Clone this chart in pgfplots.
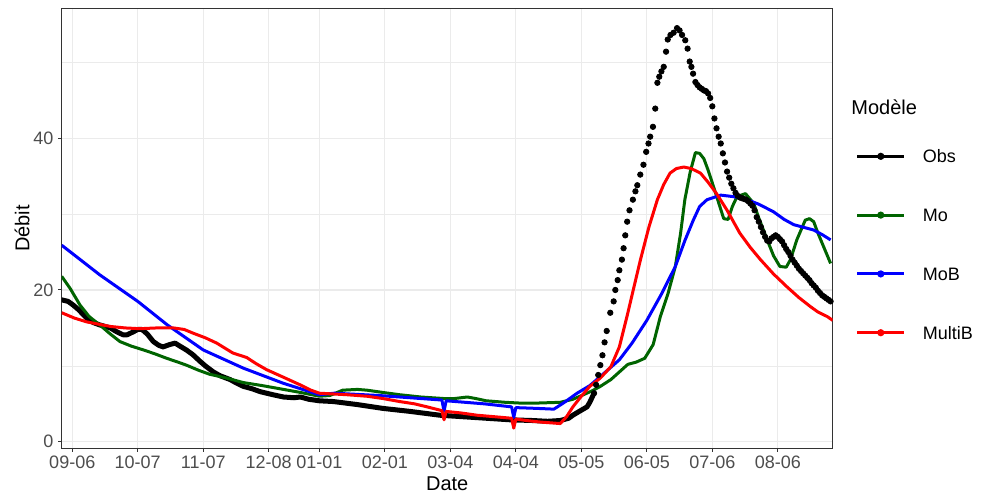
\documentclass[border=0pt]{standalone}
\usepackage{pgfplots}
\pgfplotsset{compat=1.18}
\usepackage{fontspec}
\setmainfont{Liberation Sans}
\definecolor{tickgray}{HTML}{4D4D4D}
\definecolor{gridgray}{HTML}{EBEBEB}
\definecolor{bordergray}{HTML}{333333}
\definecolor{mogreen}{HTML}{006400}
\begin{document}
\begin{tikzpicture}
\path[use as bounding box] (0,0) rectangle (492.5pt,250pt);
\begin{axis}[
  at={(30.85pt,25.85pt)}, anchor=south west,
  scale only axis, width=385.5pt, height=219.8pt,
  xmin=0, xmax=365, ymin=-0.86, ymax=57.06,
  xtick={5,36,67,98,122,153,184,215,246,277,308,339},
  xticklabels={09-06,10-07,11-07,12-08,01-01,02-01,03-04,04-04,05-05,06-05,07-06,08-06},
  ytick={0,20,40}, minor ytick={10,30,50},
  grid=both,
  major grid style={gridgray, line width=0.6pt},
  minor grid style={gridgray, line width=0.3pt},
  axis line style={bordergray, line width=0.5pt},
  tick style={bordergray, line width=0.5pt},
  tick align=outside, tick pos=left,
  major tick length=1.8pt, minor tick length=0pt,
  /pgf/number format/assume math mode=true,
  ticklabel style={font=\fontsize{9}{10}\selectfont, text=tickgray},
  xticklabel style={inner sep=2pt},
  yticklabel style={inner sep=2.2pt},
  xlabel={Date}, ylabel={Débit},
  xlabel style={at={(axis description cs:0.5,-0.0971)}, anchor=base, font=\fontsize{10}{12}\selectfont},
  ylabel style={at={(axis description cs:-0.042,0.5)}, anchor=base, font=\fontsize{10}{12}\selectfont},
  legend cell align=left,
  legend style={draw=none, fill=none, at={(axis description cs:1.0302,0.679)}, anchor=north west,
    font=\fontsize{9}{10}\selectfont, inner sep=0pt, outer sep=0pt, row sep=22.9pt, column sep=8.65pt,
    nodes={inner sep=0pt, text height=6.5pt, text depth=0pt}},
  legend image code/.code={\draw[mark repeat=2,mark phase=2,#1] plot coordinates {(0pt,0pt) (11.65pt,0pt) (23.3pt,0pt)};},
]
% Obs (line part where daily points merge)
\addplot[forget plot, black, line width=2.5pt, line join=round, line cap=round] coordinates {
(0,18.7) (3,18.5) (5.5,18.0) (8,17.4) (11.8,16.3) (15,15.7) (18,15.4) (23,15.0) (26,14.5) (29,14.1)
(31,14.1) (34,14.5) (36,14.8) (38,14.8) (40.5,14.2) (43.4,13.2) (46,12.7) (48,12.5) (51,12.8) (53.7,13.0)
(56,12.6) (59,12.1) (62,11.5) (65.5,10.6) (68,10.0) (71.8,9.2) (75,8.7) (79.7,8.2) (83,7.7) (86,7.3)
(90,7.0) (94,6.6) (100,6.2) (105,5.9) (110,5.8) (113,5.9) (117,5.6) (122,5.4) (128.7,5.3) (140,4.9)
(152,4.4) (165,4.0) (179,3.5) (190,3.3) (201,3.1) (212,2.9) (223,2.8) (230,2.7) (236,2.8) (240,3.1)
(242,3.5) (245,4.0) (248.7,4.6) (250,5.2) (252,6.4)
};
% Obs (daily points)
\addplot[forget plot, black, only marks, mark=*, mark size=1.35pt] coordinates {
(252,6.4) (253,7.5) (254,8.8) (255,10.1) (256,11.4) (257,13.1) (258,14.6) (259.7,17.0) (261.3,18.5) (262.1,20.0)
(263.2,21.3) (264,22.6) (265.2,24.0) (266,25.5) (266.8,27.2) (267.7,29.0) (268.8,30.5) (270.4,31.9) (271.6,33.0) (272.5,33.8)
(273.9,35.2) (275.4,36.5) (276.7,38.2) (277.8,39.3) (278.6,40.2) (279.9,41.5) (281,43.9) (282,47.3) (282.9,48.1) (283.9,48.8)
(285,49.4) (286.1,51.4) (286.9,53.0) (288.2,53.6) (289.7,53.9) (291.3,54.5) (292.5,54.2) (293.7,53.6) (295.2,52.9) (296.3,51.8)
(297.3,50.1) (298.1,49.4) (298.9,48.5) (300,47.4) (301,47.0) (302,46.7) (303,46.5) (304,46.3) (305,46.2) (306,45.9)
(307,45.3) (308,44.2) (309,42.6) (310,41.3) (311,40.2) (312,39.3) (313,38.0) (314,36.8) (315,35.6) (316,34.8)
(317,34.0) (318,33.4) (319,32.8) (320,32.4) (321,32.2) (322,32.1) (323,32.0) (324,31.9) (325,31.7) (326,31.4)
(327,31.1) (328,30.5) (329,29.6) (330,29.0) (331,28.3) (332,27.6) (333,27.0) (334,26.5) (335,26.4) (336,26.8)
(337,27.0) (338,27.2) (339,27.0) (340,26.7) (341,26.4) (342,25.9) (343,25.4) (344,25.0) (345,24.5) (346,24.0)
(347,23.6) (348,23.2) (349,22.8) (350,22.5) (351,22.2) (352,21.9) (353,21.6) (354,21.3) (355,20.9) (356,20.6)
(357,20.3) (358,19.9) (359,19.6) (360,19.3) (361,19.1) (362,18.9) (363,18.7) (364,18.5)
};
% Mo
\addplot[forget plot, mogreen, line width=1.5pt, line join=round] coordinates {
(0,21.8) (4,20.2) (8.7,18.0) (13,16.5) (18,15.4) (23,14.2) (27.6,13.2) (33,12.6) (38.7,12.1) (44,11.6)
(49.7,11.0) (55,10.5) (59,10.1) (65,9.4) (70,8.9) (78,8.4) (86,7.8) (95,7.4) (105,6.9) (113,6.5)
(122,6.0) (127,6.1) (133,6.8) (140,6.9) (144.5,6.8) (152,6.5) (160,6.2) (170,5.9) (180.8,5.7) (186,5.7)
(192,5.9) (196,5.7) (201,5.4) (210,5.2) (217,5.1) (225,5.1) (236,5.2) (242,5.6) (247,6.2) (251,6.7)
(255,7.3) (260,8.2) (264,9.2) (268,10.2) (272,10.5) (276,11.0) (280,12.8) (283.4,16.5) (287,19.5) (290.5,23.1)
(293,27.5) (295,31.9) (297.5,35.5) (300,38.1) (302,38.0) (304,37.3) (306,35.8) (308.6,33.6) (311,31.5) (313.4,29.4)
(315.5,29.3) (317.5,31.0) (319.7,32.3) (323.7,32.7) (327.6,31.4) (330,29.5) (334,26.6) (337,24.5) (340,23.1) (343,23.0)
(345,24.0) (348,26.6) (352,29.2) (354,29.4) (356,29.0) (358,27.5) (361,25.5) (364,23.5)
};
% MoB
\addplot[forget plot, blue, line width=1.5pt, line join=round] coordinates {
(0,25.9) (18,22.0) (36,18.5) (50,15.4) (67,12.1) (86,9.7) (105,7.7) (122,6.2) (129,6.4) (150,6.1)
(165,5.8) (180,5.5) (181,4.0) (182,5.4) (200,5.0) (213,4.6) (214,3.2) (215,4.5) (225,4.4) (233,4.3)
(238,5.2) (244,6.4) (250,7.4) (255,8.6) (264,10.8) (270,13.0) (277,16.0) (284,19.5) (290.5,23.1) (295,26.5)
(299,29.2) (302,31.0) (305.5,31.9) (312,32.5) (318,32.3) (324.5,31.9) (330,31.3) (337,30.3) (342,29.3) (346.6,28.6)
(352,28.2) (356,27.9) (360,27.3) (364,26.6)
};
% MultiB
\addplot[forget plot, red, line width=1.5pt, line join=round] coordinates {
(0,17.0) (6,16.3) (11.8,15.8) (22.9,15.2) (30,15.0) (37,14.9) (45,15.0) (52.9,15.0) (58,14.8) (62.3,14.3)
(68,13.7) (73.4,13.0) (81,11.7) (87.6,11.1) (92,10.3) (97,9.5) (105,8.5) (112.9,7.5) (118,6.8) (122,6.4)
(135,6.2) (144.5,6.0) (152,5.7) (160,5.3) (167,5.0) (173,4.6) (180,4.1) (181,2.9) (182,4.0) (189,3.8)
(196.6,3.5) (205,3.3) (213,3.1) (214,1.8) (215,3.0) (220,2.8) (226.6,2.6) (236,2.4) (239,3.3) (242,4.6)
(246,6.0) (250,7.3) (255,8.4) (260,9.9) (264,12.5) (267.6,16.5) (271,20.5) (274,24.0) (278,28.3) (282,31.9)
(285,33.9) (288,35.4) (291,36.0) (294.5,36.2) (298,36.0) (302.4,35.4) (306,34.2) (310,32.7) (315,30.5) (321,27.5)
(326,25.6) (330.8,24.0) (337,22.1) (343.4,20.4) (349,19.0) (354.5,17.8) (358,17.1) (362.4,16.5) (365,16.0)
};
\addlegendimage{black, line width=1.5pt, mark=*, mark size=1pt}
\addlegendentry{Obs}
\addlegendimage{mogreen, line width=1.5pt, mark=*, mark size=1pt}
\addlegendentry{Mo}
\addlegendimage{blue, line width=1.5pt, mark=*, mark size=1pt}
\addlegendentry{MoB}
\addlegendimage{red, line width=1.5pt, mark=*, mark size=1pt}
\addlegendentry{MultiB}
\end{axis}
\node[anchor=base west, inner sep=0pt, font=\fontsize{10}{12}\selectfont] at (425.5pt,192.85pt) {Modèle};
\end{tikzpicture}
\end{document}
